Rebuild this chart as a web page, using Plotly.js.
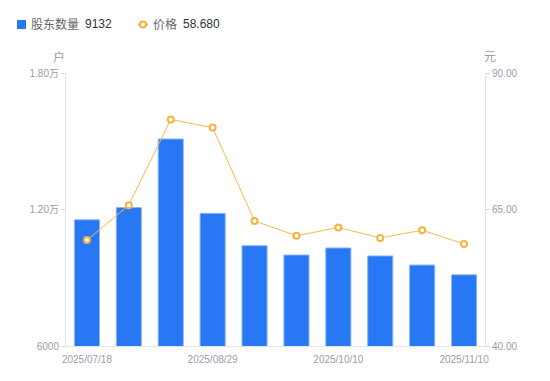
<!DOCTYPE html>
<html>
<head>
<meta charset="utf-8">
<script src="https://cdn.plot.ly/plotly-3.0.1.min.js"></script>
<style>html,body{margin:0;padding:0;background:#fff;}#chart{width:550px;height:381px;}</style>
</head>
<body>
<div id="chart"></div>
<script>
const dates = ['2025/07/18','2025/07/31','2025/08/15','2025/08/29','2025/09/19','2025/09/30','2025/10/10','2025/10/20','2025/10/31','2025/11/10'];
const holders = [11550, 12090, 15100, 11830, 10410, 10000, 10310, 9960, 9560, 9132];
const prices = [59.4, 65.8, 81.5, 80.0, 62.9, 60.2, 61.7, 59.8, 61.2, 58.68];
const xTickVals = ['2025/07/18','2025/08/29','2025/10/10','2025/11/10'];
const yLeftTicks = [6000, 12000, 18000];
const yLeftText = ['6000', '1.20万', '1.80万'];
const yRightTicks = [40, 65, 90];
const yRightText = ['40.00', '65.00', '90.00'];
const seriesNames = ['股东数量', '价格'];

const fontFam = 'Liberation Sans, Noto Sans CJK SC, sans-serif';
const lastH = String(holders[holders.length - 1]);
const lastP = prices[prices.length - 1].toFixed(3);

const M = {l: 66, r: 65, t: 73, b: 35};
const W = 550, H = 381;
const pw = W - M.l - M.r, ph = H - M.t - M.b;
const px = v => (v - M.l) / pw;
const py = v => (H - M.b - v) / ph;

const BLUE = '#2878f5', ORANGE = '#f7b13d';
const TICKC = '#9c9cac';

const traces = [
  {
    type: 'bar', x: dates, y: holders, name: seriesNames[0],
    marker: {color: BLUE, line: {color: '#8db8f8', width: 1}},
    width: 0.6, yaxis: 'y', hoverinfo: 'none', showlegend: false
  },
  {
    type: 'scatter', mode: 'lines+markers', x: dates, y: prices, name: seriesNames[1],
    line: {color: '#f7b84b', width: 1},
    marker: {symbol: 'circle', size: 6, color: '#ffffff', line: {color: ORANGE, width: 2}},
    yaxis: 'y2', hoverinfo: 'none', showlegend: false, cliponaxis: false
  }
];

function lbl(text, x, color) {
  return {text: text, xref: 'paper', yref: 'paper', x: px(x), y: py(24.5), xanchor: 'left', yanchor: 'middle',
    showarrow: false, borderpad: 0, borderwidth: 0, font: {size: 12, color: color, family: fontFam}};
}

const layout = {
  width: W, height: H,
  margin: M,
  paper_bgcolor: '#ffffff', plot_bgcolor: '#ffffff',
  font: {family: fontFam, size: 10, color: TICKC},
  showlegend: false,
  xaxis: {
    type: 'category', range: [-0.5, 9.5], tickmode: 'array', tickvals: xTickVals, ticktext: xTickVals,
    showgrid: false, showline: true, linecolor: '#e3e3e8', linewidth: 1,
    ticks: '', ticklabelstandoff: 4, tickfont: {size: 10, color: TICKC}, zeroline: false,
    automargin: false
  },
  yaxis: {
    range: [6000, 18000], tickmode: 'array', tickvals: yLeftTicks, ticktext: yLeftText,
    showgrid: false, showline: true, linecolor: '#e3e3e8', linewidth: 1,
    ticks: 'outside', ticklen: 4, tickcolor: '#d8d8dd', tickfont: {size: 10, color: TICKC},
    zeroline: false, automargin: false
  },
  yaxis2: {
    range: [40, 90], overlaying: 'y', side: 'right', tickmode: 'array',
    tickvals: yRightTicks, ticktext: yRightText,
    showgrid: false, showline: true, linecolor: '#e3e3e8', linewidth: 1,
    ticks: 'outside', ticklen: 4, tickcolor: '#d8d8dd', tickfont: {size: 10, color: TICKC},
    zeroline: false, automargin: false
  },
  shapes: [
    {type: 'rect', xref: 'paper', yref: 'paper', x0: px(17), x1: px(26), y0: py(20), y1: py(29),
     fillcolor: BLUE, line: {width: 0}},
    {type: 'line', xref: 'paper', yref: 'paper', x0: px(138), x1: px(148), y0: py(24.5), y1: py(24.5),
     line: {color: ORANGE, width: 2}},
    {type: 'circle', xref: 'paper', yref: 'paper', x0: px(140), x1: px(146), y0: py(21.5), y1: py(27.5),
     fillcolor: '#ffffff', line: {color: ORANGE, width: 2}}
  ],
  annotations: [
    {text: '户', xref: 'paper', yref: 'paper', x: 0, y: 1, xshift: -7, yshift: 16,
     showarrow: false, xanchor: 'center', yanchor: 'middle', font: {size: 12, color: TICKC}},
    {text: '元', xref: 'paper', yref: 'paper', x: 1, y: 1, xshift: 5, yshift: 16,
     showarrow: false, xanchor: 'center', yanchor: 'middle', font: {size: 12, color: TICKC}},
    lbl(seriesNames[0], 31, '#666666'),
    lbl(lastH, 85, '#333333'),
    lbl(seriesNames[1], 153, '#666666'),
    lbl(lastP, 183, '#333333')
  ]
};

Plotly.newPlot('chart', traces, layout, {displayModeBar: false, staticPlot: true});
</script>
</body>
</html>
